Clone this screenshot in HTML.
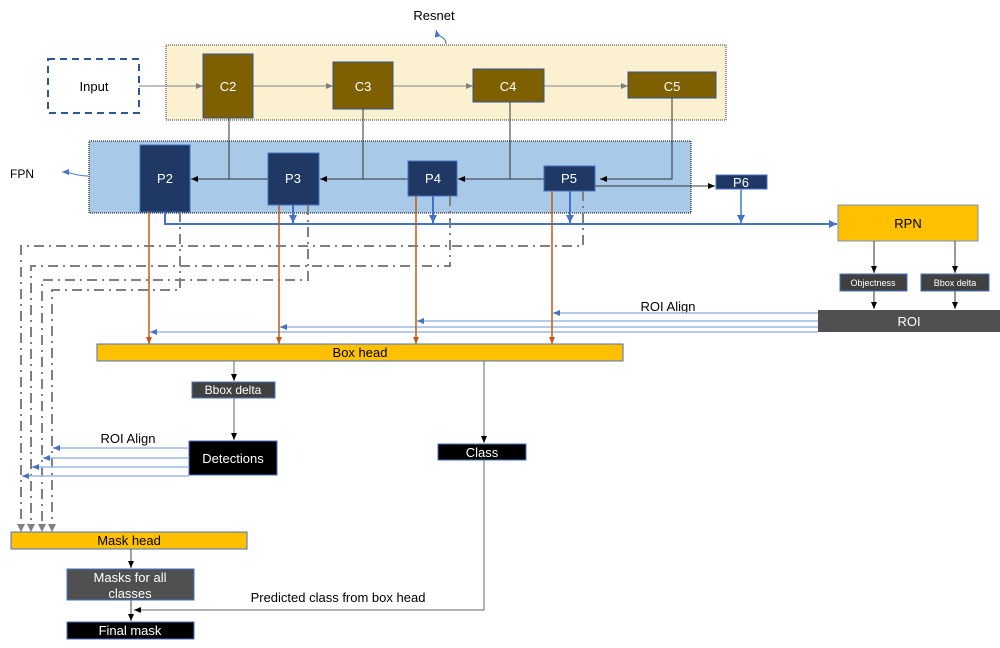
<!DOCTYPE html>
<html><head><meta charset="utf-8"><style>
html,body{margin:0;padding:0;background:#fff;width:1000px;height:648px;overflow:hidden}
text{font-family:"Liberation Sans",sans-serif}
</style></head><body>
<svg width="1000" height="648" xmlns="http://www.w3.org/2000/svg">
<defs>
<marker id="ak" markerWidth="8" markerHeight="8" refX="7" refY="4" orient="auto" markerUnits="userSpaceOnUse"><path d="M0,1 L7,4 L0,7z" fill="#000"/></marker>
<marker id="ag" markerWidth="8" markerHeight="8" refX="7" refY="4" orient="auto" markerUnits="userSpaceOnUse"><path d="M0,1 L7,4 L0,7z" fill="#808080"/></marker>
<marker id="ab" markerWidth="10" markerHeight="10" refX="8" refY="5" orient="auto" markerUnits="userSpaceOnUse"><path d="M0,1 L8,5 L0,9z" fill="#4472C4"/></marker>
<marker id="abl" markerWidth="8" markerHeight="8" refX="7" refY="4" orient="auto" markerUnits="userSpaceOnUse"><path d="M0,1 L7,4 L0,7z" fill="#4472C4"/></marker>
<marker id="ao" markerWidth="8" markerHeight="8" refX="7" refY="4" orient="auto" markerUnits="userSpaceOnUse"><path d="M0,1 L7,4 L0,7z" fill="#C55A11"/></marker>
</defs>

<!-- Resnet -->
<text x="434" y="20" font-size="13" text-anchor="middle">Resnet</text>
<path d="M446,44 C446,36 438,38 436,30" stroke="#4472C4" fill="none" stroke-width="1" marker-end="url(#abl)"/>
<rect x="166" y="45" width="560" height="75" fill="#FBF0CF" stroke="#333" stroke-dasharray="1,1"/>
<rect x="48" y="59" width="91" height="54" fill="#fff" stroke="#2F5597" stroke-width="2" stroke-dasharray="7,5"/>
<text x="94" y="91" font-size="13" text-anchor="middle">Input</text>
<g stroke="#999" stroke-width="1.2" marker-end="url(#ag)">
<line x1="139" y1="86" x2="203" y2="86"/><line x1="253" y1="86" x2="333" y2="86"/>
<line x1="393" y1="86" x2="473" y2="86"/><line x1="544" y1="86" x2="628" y2="86"/>
</g>
<g fill="#7F6000" stroke="#2F5597">
<rect x="203" y="54" width="50" height="64"/><rect x="333" y="62" width="60" height="47"/>
<rect x="473" y="69" width="71" height="33"/><rect x="628" y="72" width="88" height="26"/>
</g>
<g fill="#fff" font-size="13" text-anchor="middle">
<text x="228" y="91">C2</text><text x="363" y="91">C3</text><text x="508" y="91">C4</text><text x="672" y="91">C5</text>
</g>

<!-- FPN -->
<rect x="89" y="141" width="602" height="72" fill="#A9C9E8" stroke="#000" stroke-dasharray="1,1"/>
<text x="10" y="178" font-size="12">FPN</text>
<path d="M88,176 C75,176 72,172 62,172" stroke="#4472C4" fill="none" marker-end="url(#abl)"/>
<g stroke="#333" stroke-width="1" fill="none">
<line x1="229" y1="118" x2="229" y2="179"/><line x1="363" y1="109" x2="363" y2="179"/>
<line x1="510" y1="102" x2="510" y2="179"/><polyline points="672,98 672,179 600,179" marker-end="url(#ak)"/>
<line x1="268" y1="179" x2="191" y2="179" marker-end="url(#ak)"/>
<line x1="408" y1="179" x2="320" y2="179" marker-end="url(#ak)"/>
<line x1="544" y1="179" x2="458" y2="179" marker-end="url(#ak)"/>
<line x1="595" y1="186" x2="715" y2="186" marker-end="url(#ak)"/>
</g>
<g fill="#1F3864" stroke="#4472C4">
<rect x="140" y="145" width="50" height="67"/><rect x="268" y="153" width="51" height="52"/>
<rect x="408" y="161" width="49" height="35"/><rect x="544" y="166" width="51" height="25"/>
<rect x="716" y="175" width="51" height="14"/>
</g>
<g fill="#fff" font-size="13" text-anchor="middle">
<text x="165" y="183">P2</text><text x="293" y="183">P3</text><text x="433" y="183">P4</text><text x="569" y="183">P5</text><text x="741" y="187">P6</text>
</g>

<!-- blue thick RPN line -->
<g stroke="#4472C4" stroke-width="2" fill="none">
<polyline points="165,212 165,224 837,224" marker-end="url(#ab)"/>
<line x1="293" y1="205" x2="293" y2="223" marker-end="url(#ab)"/>
<line x1="433" y1="196" x2="433" y2="223" marker-end="url(#ab)"/>
<line x1="570" y1="191" x2="570" y2="223" marker-end="url(#ab)"/>
<line x1="741" y1="189" x2="741" y2="223" marker-end="url(#ab)" stroke="#6F9BE0"/>
</g>
<rect x="838" y="205" width="140" height="36" fill="#FFC000" stroke="#6F8FC8"/>
<text x="908" y="228" font-size="13" text-anchor="middle">RPN</text>
<g stroke="#333" marker-end="url(#ak)">
<line x1="874" y1="241" x2="874" y2="273"/><line x1="955" y1="241" x2="955" y2="273"/>
<line x1="874" y1="291" x2="874" y2="309"/><line x1="955" y1="291" x2="955" y2="309"/>
</g>
<rect x="840" y="274" width="67" height="17" fill="#404040" stroke="#4472C4"/>
<rect x="921" y="274" width="68" height="17" fill="#404040" stroke="#4472C4"/>
<text x="873" y="286" font-size="9" fill="#fff" text-anchor="middle">Objectness</text>
<text x="955" y="286" font-size="9" fill="#fff" text-anchor="middle">Bbox delta</text>
<rect x="818" y="310" width="182" height="22" fill="#505050"/>
<text x="909" y="326" font-size="13" fill="#fff" text-anchor="middle">ROI</text>
<text x="668" y="311" font-size="13" text-anchor="middle">ROI Align</text>
<g stroke="#9DB8E6" stroke-width="1.5" marker-end="url(#abl)">
<line x1="818" y1="313" x2="553" y2="313"/><line x1="818" y1="321" x2="417" y2="321"/>
<line x1="818" y1="327" x2="280" y2="327"/><line x1="818" y1="332" x2="150" y2="332"/>
</g>

<!-- orange -->
<g stroke="#C55A11" stroke-width="1.5" marker-end="url(#ao)">
<line x1="149" y1="212" x2="149" y2="344"/><line x1="279" y1="205" x2="279" y2="344"/>
<line x1="416" y1="196" x2="416" y2="344"/><line x1="552" y1="191" x2="552" y2="344"/>
</g>

<!-- dash-dot gray -->
<g stroke="#808080" stroke-width="2" fill="none" stroke-dasharray="10,5,2,5">
<polyline points="180,212 180,290 52,290 52,526"/>
<polyline points="308,205 308,280 42,280 42,526"/>
<polyline points="450,196 450,266 31,266 31,526"/>
<polyline points="583,191 583,246 21,246 21,526"/>
</g>
<g fill="#808080">
<path d="M17,524 L25,524 L21,532z"/><path d="M27,524 L35,524 L31,532z"/><path d="M38,524 L46,524 L42,532z"/><path d="M48,524 L56,524 L52,532z"/>
</g>

<!-- box head -->
<rect x="97" y="344" width="526" height="17" fill="#FFC000" stroke="#4472C4"/>
<text x="360" y="357" font-size="13" text-anchor="middle">Box head</text>
<g stroke="#666" marker-end="url(#ak)">
<line x1="234" y1="361" x2="234" y2="381"/><line x1="234" y1="398" x2="234" y2="440"/>
<line x1="484" y1="361" x2="484" y2="443"/>
</g>
<rect x="192" y="382" width="83" height="16" fill="#404040" stroke="#4472C4"/>
<text x="233" y="394" font-size="12" fill="#fff" text-anchor="middle">Bbox delta</text>
<rect x="189" y="441" width="88" height="34" fill="#000" stroke="#4472C4"/>
<text x="233" y="463" font-size="13" fill="#fff" text-anchor="middle">Detections</text>
<text x="128" y="443" font-size="13" text-anchor="middle">ROI Align</text>
<g stroke="#9DB8E6" stroke-width="1.5" marker-end="url(#abl)">
<line x1="189" y1="448" x2="53" y2="448"/><line x1="189" y1="458" x2="43" y2="458"/>
<line x1="189" y1="467" x2="32" y2="467"/><line x1="189" y1="476" x2="22" y2="476"/>
</g>
<rect x="438" y="444" width="88" height="16" fill="#000" stroke="#4472C4"/>
<text x="482" y="457" font-size="13" fill="#fff" text-anchor="middle">Class</text>
<polyline points="484,460 484,610 134,610" stroke="#666" fill="none" marker-end="url(#ak)"/>
<text x="338" y="602" font-size="13" text-anchor="middle">Predicted class from box head</text>

<!-- mask -->
<rect x="11" y="532" width="236" height="17" fill="#FFC000" stroke="#4472C4"/>
<text x="129" y="545" font-size="13" text-anchor="middle">Mask head</text>
<g stroke="#444" marker-end="url(#ak)">
<line x1="131" y1="549" x2="131" y2="568"/><line x1="131" y1="600" x2="131" y2="621"/>
</g>
<rect x="67" y="569" width="127" height="31" fill="#505050" stroke="#4472C4"/>
<text x="130" y="582" font-size="13" fill="#fff" text-anchor="middle">Masks for all</text>
<text x="130" y="598" font-size="13" fill="#fff" text-anchor="middle">classes</text>
<rect x="67" y="622" width="127" height="17" fill="#000" stroke="#4472C4"/>
<text x="130" y="635" font-size="13" fill="#fff" text-anchor="middle">Final mask</text>
</svg>
</body></html>
